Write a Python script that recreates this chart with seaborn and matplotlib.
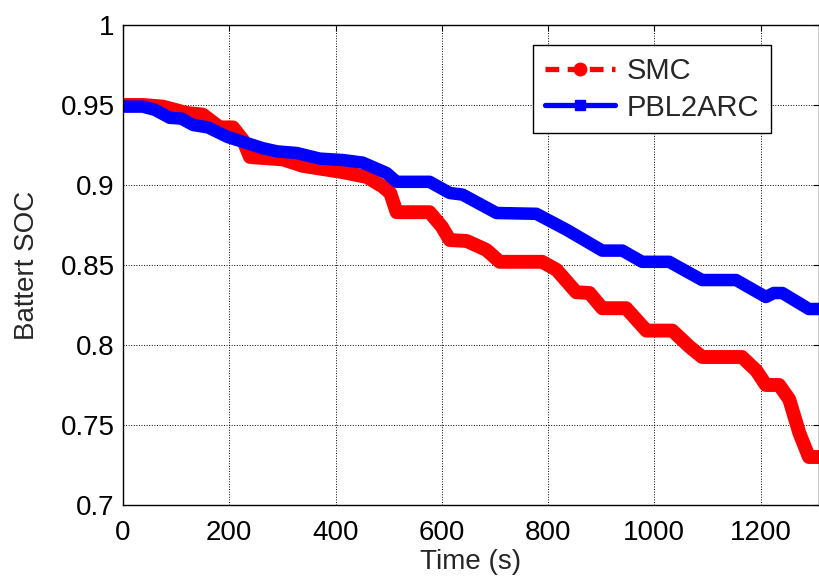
import numpy as np
import pandas as pd
import matplotlib
matplotlib.use("Agg")
import matplotlib.pyplot as plt
from matplotlib.lines import Line2D
import seaborn as sns

# ---- data ----
smc_t = [0, 37, 75, 120, 150, 182, 207, 226, 239, 301, 338, 414, 459, 489, 503, 515,
         577, 600, 615, 647, 684, 709, 789, 816, 853, 878, 902, 947, 985, 1034, 1066,
         1090, 1165, 1192, 1210, 1235, 1254, 1273, 1291, 1310]
smc_soc = [0.950, 0.950, 0.949, 0.945, 0.944, 0.936, 0.936, 0.928, 0.9175, 0.916, 0.912,
           0.908, 0.905, 0.899, 0.895, 0.883, 0.883, 0.874, 0.8656, 0.865, 0.8594, 0.852,
           0.852, 0.847, 0.833, 0.8325, 0.823, 0.823, 0.809, 0.809, 0.799, 0.7925, 0.7925,
           0.784, 0.775, 0.775, 0.766, 0.745, 0.730, 0.730]

pbl_t = [0, 37, 60, 88, 110, 132, 160, 197, 230, 263, 290, 327, 370, 414, 451, 496,
         515, 577, 615, 639, 703, 778, 835, 902, 940, 977, 1028, 1090, 1154, 1210,
         1225, 1241, 1291, 1310]
pbl_soc = [0.949, 0.949, 0.947, 0.942, 0.9415, 0.9375, 0.936, 0.930, 0.9265, 0.923,
           0.921, 0.920, 0.9165, 0.9156, 0.914, 0.9075, 0.902, 0.902, 0.895, 0.894,
           0.8825, 0.882, 0.872, 0.859, 0.859, 0.852, 0.852, 0.8406, 0.8406, 0.830,
           0.8325, 0.8325, 0.8225, 0.8225]

x_ticks = [0, 200, 400, 600, 800, 1000, 1200]
y_ticks = [0.7, 0.75, 0.8, 0.85, 0.9, 0.95, 1.0]
y_tick_labels = ["0.7", "0.75", "0.8", "0.85", "0.9", "0.95", "1"]

sns.set_style("white")
plt.rcParams["font.family"] = ["Liberation Sans", "DejaVu Sans"]

fig = plt.figure(figsize=(8.19, 5.81), dpi=100)
ax = fig.add_axes([123 / 819, 76 / 581, 696 / 819, 480 / 581])

df_smc = pd.DataFrame({"t": smc_t, "soc": smc_soc})
df_pbl = pd.DataFrame({"t": pbl_t, "soc": pbl_soc})

sns.lineplot(data=df_smc, x="t", y="soc", ax=ax, color="#ff0000", linewidth=10,
             sort=False, estimator=None, solid_capstyle="round", solid_joinstyle="round")
sns.lineplot(data=df_pbl, x="t", y="soc", ax=ax, color="#0000ff", linewidth=9,
             sort=False, estimator=None, solid_capstyle="butt", solid_joinstyle="round")

ax.set_xlim(0, 1310)
ax.set_ylim(0.7, 1.0)
ax.set_xticks(x_ticks)
ax.set_xticklabels([str(v) for v in x_ticks])
ax.set_yticks(y_ticks)
ax.set_yticklabels(y_tick_labels)
ax.tick_params(axis="both", direction="in", length=4, width=0.8, labelsize=20,
               top=True, right=True, colors="black")
ax.tick_params(axis="x", pad=11)
ax.tick_params(axis="y", pad=6)
ax.grid(True, color="black", linestyle=":", linewidth=0.7)
for s in ax.spines.values():
    s.set_color("black")
    s.set_linewidth(1.0)

ax.set_xlabel("Time (s)", fontsize=20, labelpad=2)
ax.set_ylabel("Battert SOC", fontsize=20, labelpad=15)

handles = [
    Line2D([0], [0], color="#ff0000", linestyle="--", linewidth=3.8, marker="o",
           markersize=9, dashes=(2.6, 1.6)),
    Line2D([0], [0], color="#0000ff", linestyle="-", linewidth=3.8, marker="s",
           markersize=7),
]
leg = ax.legend(handles, ["SMC", "PBL2ARC"], loc="upper right",
                bbox_to_anchor=(0.931, 0.958), fontsize=21, frameon=True,
                fancybox=False, edgecolor="black", framealpha=1, handlelength=2.4,
                borderpad=0.4, labelspacing=0.3, handletextpad=0.4,
                borderaxespad=0)
leg.get_frame().set_linewidth(1.0)

fig.savefig("out.png", dpi=100)
